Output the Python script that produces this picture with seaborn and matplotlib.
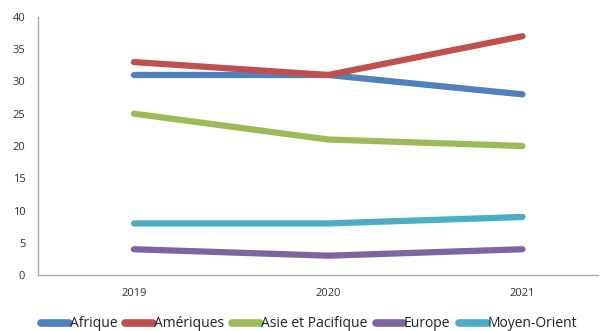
import matplotlib
matplotlib.use("Agg")
import matplotlib.pyplot as plt
import seaborn as sns
import pandas as pd

years = ["2019", "2020", "2021"]
regions = ["Afrique", "Amériques", "Asie et Pacifique", "Europe", "Moyen-Orient"]
afrique = [31, 31, 28]
ameriques = [33, 31, 37]
asie = [25, 21, 20]
europe = [4, 3, 4]
moyen_orient = [8, 8, 9]
colors = ["#4F81BD", "#C0504D", "#9BBB59", "#8064A2", "#4BACC6"]

rows = []
for reg, vals in zip(regions, [afrique, ameriques, asie, europe, moyen_orient]):
    for i, (y, v) in enumerate(zip(years, vals)):
        rows.append({"Année": y, "x": i, "Région": reg, "Valeur": v})
df = pd.DataFrame(rows)

sns.set_style("white")
plt.rcParams["font.family"] = ["Open Sans", "DejaVu Sans"]

fig = plt.figure(figsize=(6.0, 3.31), dpi=100)
ax = fig.add_axes([0.063, 0.169, 0.934, 0.78])
sns.lineplot(data=df, x="x", y="Valeur", hue="Région", hue_order=regions,
             palette=colors, linewidth=4.5, ax=ax, legend=True,
             solid_capstyle="round")
for line in ax.get_lines():
    line.set_solid_capstyle("round")

ax.set_xlim(-0.495, 2.39)
ax.set_ylim(0, 40)
ax.set_yticks(range(0, 41, 5))
ax.set_xticks(range(len(years)))
ax.set_xticklabels(years)
ax.tick_params(axis="both", length=0, labelsize=8, colors="#333333")
ax.tick_params(axis="x", pad=9)
ax.tick_params(axis="y", pad=9)
ax.set_xlabel("")
ax.set_ylabel("")
for s in ["top", "right"]:
    ax.spines[s].set_visible(False)
for s in ["left", "bottom"]:
    ax.spines[s].set_color("#AAAAAA")
    ax.spines[s].set_linewidth(1.0)

handles, labels = ax.get_legend_handles_labels()
for h in handles:
    h.set_linewidth(5.5)
    h.set_solid_capstyle("round")
leg = ax.legend(handles, labels, loc="lower center", bbox_to_anchor=(0.484, -0.24),
                ncol=5, frameon=False, fontsize=10, handlelength=2.0,
                handletextpad=0.05, columnspacing=0.6, borderaxespad=0)
for t in leg.get_texts():
    t.set_color("#222222")

fig.savefig("out.png", dpi=100)
